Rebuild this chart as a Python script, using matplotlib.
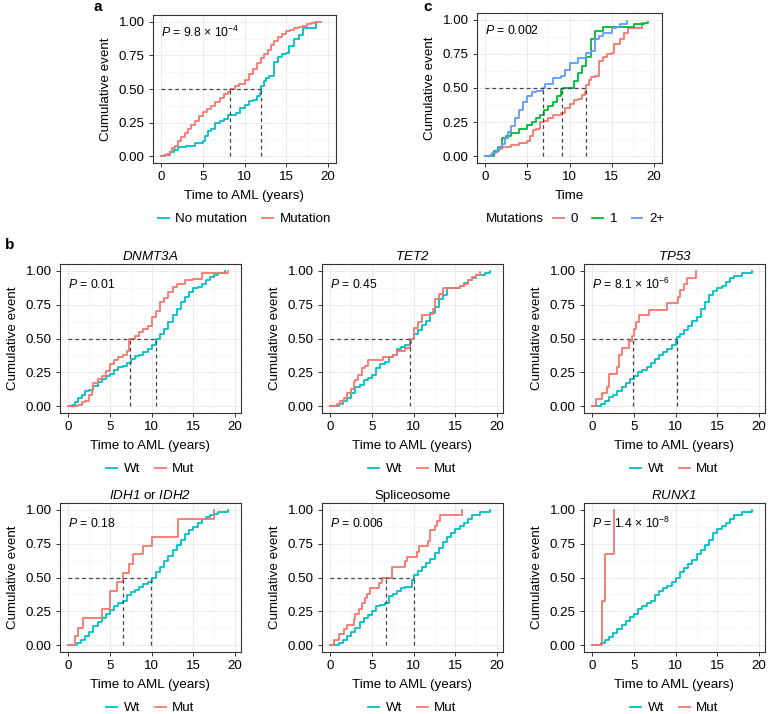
import matplotlib
matplotlib.use("Agg")
import matplotlib.pyplot as plt
from matplotlib.lines import Line2D
from matplotlib.ticker import MultipleLocator

plt.rcParams['font.family'] = ['Liberation Sans', 'DejaVu Sans']
plt.rcParams['mathtext.fontset'] = 'custom'
plt.rcParams['mathtext.rm'] = 'Liberation Sans'
plt.rcParams['mathtext.it'] = 'Liberation Sans:italic'
plt.rcParams['mathtext.sf'] = 'Liberation Sans:italic'

RED = '#F8766D'
CYAN = '#00BFC4'
GREEN = '#00BA38'
BLUE = '#619CFF'

# ---- panel a: no mutation vs mutation ----
a_nomut_t = [0, 0.5, 1.0, 1.5, 2.0, 3.0, 4.0, 5.0, 5.3, 5.6, 6.0, 6.5, 7.0, 7.5, 8.0, 9.0, 9.5, 10.0,
             10.5, 11.0, 11.5, 11.9, 12.0, 12.3, 12.6, 13.0, 13.5, 14.0, 14.5, 15.0, 15.3, 16.0, 16.5,
             17.0, 18.6]
a_nomut_v = [0, 0.01, 0.03, 0.05, 0.07, 0.08, 0.10, 0.11, 0.15, 0.19, 0.20, 0.25, 0.26, 0.28, 0.31, 0.32,
             0.36, 0.38, 0.41, 0.42, 0.45, 0.47, 0.52, 0.56, 0.58, 0.60, 0.70, 0.74, 0.76, 0.77, 0.82, 0.87,
             0.90, 0.955, 1.0]
a_mut_t = [0, 0.3, 0.7, 1.0, 1.3, 1.6, 2.0, 2.4, 2.8, 3.2, 3.6, 4.0, 4.5, 5.0, 5.5, 6.0, 6.5, 7.0, 7.5,
           8.0, 8.3, 8.8, 9.3, 10.0, 10.5, 11.0, 11.5, 12.0, 12.4, 12.8, 13.2, 13.6, 14.0, 14.5, 15.0,
           15.5, 16.0, 16.5, 17.0, 17.5, 18.0, 18.5, 19.2]
a_mut_v = [0, 0.01, 0.02, 0.03, 0.06, 0.08, 0.11, 0.14, 0.17, 0.20, 0.23, 0.26, 0.30, 0.33, 0.35, 0.37,
           0.40, 0.43, 0.46, 0.48, 0.50, 0.52, 0.54, 0.57, 0.61, 0.65, 0.69, 0.73, 0.76, 0.79, 0.83, 0.86,
           0.89, 0.91, 0.93, 0.94, 0.95, 0.96, 0.97, 0.98, 0.99, 0.995, 1.0]
a_medians = [8.2, 12.0]

# ---- panel c: number of mutations ----
c0_t = [0, 0.5, 1.0, 1.5, 2.0, 3.0, 4.0, 5.0, 5.3, 5.6, 6.0, 6.5, 7.0, 7.5, 8.0, 9.0, 9.5, 10.0, 10.5,
        11.0, 11.5, 11.9, 12.0, 12.3, 12.6, 13.0, 13.5, 14.0, 14.5, 15.0, 15.3, 16.0, 16.5, 17.0, 18.6]
c0_v = [0, 0.01, 0.03, 0.05, 0.07, 0.08, 0.10, 0.11, 0.15, 0.19, 0.20, 0.25, 0.26, 0.28, 0.30, 0.32,
        0.35, 0.38, 0.41, 0.42, 0.45, 0.47, 0.52, 0.56, 0.58, 0.59, 0.70, 0.73, 0.75, 0.76, 0.82, 0.86,
        0.90, 0.94, 0.98]
c1_t = [0, 0.8, 1.0, 1.5, 2.0, 2.5, 3.0, 4.0, 5.0, 5.5, 6.0, 6.5, 7.0, 7.5, 8.0, 8.5, 9.0, 9.2, 10.2,
        10.5, 11.0, 11.5, 12.0, 12.5, 13.0, 14.0, 17.7, 18.8, 19.3]
c1_v = [0, 0.0, 0.04, 0.07, 0.13, 0.15, 0.17, 0.20, 0.23, 0.25, 0.28, 0.30, 0.34, 0.37, 0.40, 0.44,
        0.49, 0.50, 0.50, 0.55, 0.61, 0.66, 0.73, 0.86, 0.92, 0.95, 0.97, 0.98, 0.985]
c2_t = [0, 0.3, 0.8, 1.2, 1.6, 2.0, 2.3, 2.7, 3.0, 3.5, 4.0, 4.5, 5.0, 5.5, 6.0, 6.9, 7.1, 8.0, 9.0, 9.5,
        10.0, 11.0, 12.0, 12.5, 13.0, 13.5, 14.0, 15.0, 15.5, 16.0, 16.8]
c2_v = [0, 0.0, 0.02, 0.04, 0.07, 0.09, 0.13, 0.18, 0.22, 0.28, 0.34, 0.40, 0.44, 0.47, 0.475, 0.50,
        0.53, 0.57, 0.59, 0.63, 0.68, 0.72, 0.76, 0.77, 0.86, 0.88, 0.90, 0.94, 0.95, 0.97, 0.99]
c_medians = [6.9, 9.1, 12.0]

# ---- panel b: individual genes (Wt vs Mut) ----
dnmt3a_wt_t = [0, 0.4, 0.8, 1.2, 1.6, 2.0, 2.5, 3.0, 3.5, 4.0, 4.5, 5.0, 5.5, 6.0, 6.5, 7.0, 7.5, 8.0,
               8.5, 9.0, 9.5, 10.0, 10.5, 11.0, 11.5, 12.0, 12.5, 13.0, 13.5, 14.0, 14.5, 15.0, 15.5,
               16.0, 16.5, 17.0, 17.5, 18.0, 18.8]
dnmt3a_wt_v = [0, 0.01, 0.03, 0.06, 0.08, 0.11, 0.12, 0.15, 0.18, 0.20, 0.22, 0.24, 0.27, 0.29, 0.30,
               0.32, 0.35, 0.37, 0.38, 0.40, 0.42, 0.45, 0.50, 0.53, 0.57, 0.62, 0.67, 0.72, 0.77, 0.81,
               0.84, 0.87, 0.88, 0.90, 0.93, 0.955, 0.97, 0.98, 1.0]
dnmt3a_mut_t = [0, 1.2, 1.6, 2.0, 2.5, 2.8, 3.0, 3.5, 4.0, 4.5, 5.0, 5.5, 6.0, 6.5, 7.0, 7.3, 8.0, 8.5,
                9.0, 9.5, 10.0, 10.5, 11.0, 11.5, 12.0, 12.5, 13.0, 14.0, 15.0, 16.0, 18.0, 19.2]
dnmt3a_mut_v = [0, 0.01, 0.03, 0.04, 0.08, 0.12, 0.17, 0.20, 0.22, 0.26, 0.31, 0.34, 0.36, 0.38, 0.41,
                0.50, 0.52, 0.55, 0.57, 0.59, 0.66, 0.70, 0.77, 0.80, 0.84, 0.88, 0.90, 0.93, 0.94, 0.98,
                0.985, 0.995]
dnmt3a_medians = [7.4, 10.5]

tet2_wt_t = [0, 0.3, 1.0, 1.5, 2.0, 2.5, 3.0, 3.5, 4.0, 4.5, 5.0, 5.5, 6.0, 6.5, 7.0, 7.5, 8.0, 8.5, 9.0,
             9.5, 9.7, 10.0, 10.5, 11.0, 11.5, 12.0, 12.5, 13.0, 13.5, 14.0, 15.0, 15.5, 16.0, 16.5,
             17.0, 17.5, 18.5, 19.2]
tet2_wt_v = [0, 0.0, 0.02, 0.04, 0.06, 0.10, 0.14, 0.16, 0.19, 0.21, 0.23, 0.28, 0.31, 0.33, 0.36, 0.38,
             0.42, 0.44, 0.45, 0.47, 0.50, 0.53, 0.56, 0.60, 0.63, 0.69, 0.73, 0.79, 0.82, 0.87, 0.87,
             0.89, 0.91, 0.93, 0.95, 0.97, 0.985, 0.995]
tet2_mut_t = [0, 0.3, 0.8, 1.2, 1.6, 2.0, 2.5, 2.8, 3.0, 3.3, 3.8, 4.2, 4.5, 6.3, 7.5, 8.0, 9.0, 9.5,
              9.6, 10.0, 10.5, 11.0, 12.0, 12.3, 12.6, 13.0, 13.5, 15.5, 16.0, 16.5, 17.0, 17.5, 18.0]
tet2_mut_v = [0, 0.0, 0.02, 0.04, 0.06, 0.10, 0.13, 0.18, 0.19, 0.23, 0.28, 0.30, 0.34, 0.36, 0.38, 0.41,
              0.43, 0.46, 0.50, 0.58, 0.62, 0.67, 0.68, 0.72, 0.79, 0.83, 0.87, 0.89, 0.90, 0.93, 0.955,
              0.97, 0.99]
tet2_medians = [9.6]

tp53_wt_t = [0, 0.5, 1.0, 1.5, 2.0, 2.5, 3.0, 3.5, 4.0, 4.5, 5.0, 5.5, 6.0, 6.5, 7.0, 7.5, 8.0, 8.5, 9.0,
             9.5, 10.0, 10.2, 10.5, 11.0, 11.5, 12.0, 12.5, 13.0, 13.5, 14.0, 14.5, 15.0, 15.5, 16.0,
             16.5, 17.0, 18.0, 19.2]
tp53_wt_v = [0, 0.0, 0.02, 0.04, 0.07, 0.08, 0.11, 0.14, 0.17, 0.20, 0.22, 0.25, 0.27, 0.29, 0.32, 0.35,
             0.38, 0.40, 0.42, 0.45, 0.48, 0.51, 0.53, 0.56, 0.59, 0.63, 0.66, 0.72, 0.77, 0.82, 0.85,
             0.87, 0.89, 0.92, 0.95, 0.96, 0.98, 1.0]
tp53_mut_t = [0, 0.4, 1.2, 1.8, 2.0, 3.0, 3.2, 3.6, 4.4, 4.8, 5.0, 5.2, 5.6, 6.8, 9.0, 10.3, 10.5, 11.0,
              11.3, 12.4]
tp53_mut_v = [0, 0.05, 0.10, 0.14, 0.24, 0.29, 0.38, 0.43, 0.48, 0.52, 0.57, 0.62, 0.67, 0.71, 0.76,
              0.81, 0.86, 0.90, 0.95, 1.0]
tp53_medians = [4.9, 10.1]

idh_wt_t = [0, 0.3, 1.0, 1.5, 2.0, 2.5, 3.0, 3.5, 4.0, 4.5, 5.0, 5.5, 6.0, 6.5, 7.0, 7.5, 8.0, 8.5, 9.0,
            9.5, 10.0, 10.5, 11.0, 11.5, 12.0, 12.5, 13.0, 13.5, 14.0, 14.5, 15.0, 15.5, 16.0, 16.5,
            17.0, 17.5, 18.0, 19.2]
idh_wt_v = [0, 0.0, 0.02, 0.04, 0.07, 0.10, 0.14, 0.17, 0.20, 0.23, 0.26, 0.29, 0.31, 0.33, 0.37, 0.39,
            0.41, 0.43, 0.45, 0.47, 0.50, 0.54, 0.58, 0.62, 0.66, 0.70, 0.74, 0.78, 0.82, 0.85, 0.87,
            0.90, 0.93, 0.95, 0.96, 0.97, 0.98, 1.0]
idh_mut_t = [0, 0.8, 1.1, 1.8, 4.0, 5.0, 5.8, 6.5, 7.3, 7.8, 9.0, 10.0, 13.2, 17.5]
idh_mut_v = [0, 0.07, 0.13, 0.20, 0.27, 0.40, 0.47, 0.53, 0.60, 0.67, 0.73, 0.80, 0.93, 1.0]
idh_medians = [6.6, 9.9]

splice_wt_t = [0, 0.5, 1.0, 1.5, 2.0, 2.5, 3.0, 3.5, 4.0, 4.5, 5.0, 5.5, 6.0, 6.6, 7.0, 7.5, 8.0, 8.5,
               9.0, 9.8, 10.0, 10.5, 11.0, 11.5, 12.0, 12.5, 13.0, 13.5, 14.0, 14.5, 15.0, 15.5, 16.0,
               16.5, 17.0, 18.0, 19.2]
splice_wt_v = [0, 0.0, 0.02, 0.04, 0.07, 0.10, 0.13, 0.17, 0.20, 0.22, 0.25, 0.29, 0.30, 0.31, 0.36,
               0.38, 0.40, 0.42, 0.43, 0.48, 0.52, 0.55, 0.58, 0.61, 0.64, 0.68, 0.72, 0.76, 0.80, 0.83,
               0.86, 0.88, 0.90, 0.93, 0.96, 0.98, 1.0]
splice_mut_t = [0, 0.4, 1.0, 1.6, 2.0, 2.8, 3.0, 3.4, 3.8, 4.1, 4.4, 4.7, 5.8, 6.2, 7.4, 9.0, 9.2, 10.4,
                10.6, 11.7, 11.9, 12.0, 12.6, 12.8, 13.1, 15.8]
splice_mut_v = [0, 0.04, 0.08, 0.12, 0.15, 0.19, 0.23, 0.27, 0.31, 0.35, 0.38, 0.42, 0.46, 0.50, 0.58,
                0.62, 0.65, 0.69, 0.73, 0.77, 0.81, 0.85, 0.88, 0.92, 0.96, 1.0]
splice_medians = [6.7, 10.0]

runx1_wt_t = [0, 0.3, 1.0, 1.5, 2.0, 2.5, 3.0, 3.5, 4.0, 4.5, 5.0, 5.5, 6.0, 6.5, 7.0, 7.5, 8.0, 8.5, 9.0,
              9.5, 10.0, 10.5, 11.0, 11.5, 12.0, 12.5, 13.0, 13.5, 14.0, 14.5, 15.0, 15.5, 16.0, 16.5,
              17.0, 18.0, 19.2]
runx1_wt_v = [0, 0.0, 0.02, 0.04, 0.06, 0.09, 0.12, 0.15, 0.18, 0.21, 0.23, 0.27, 0.29, 0.31, 0.33,
              0.37, 0.40, 0.42, 0.44, 0.47, 0.50, 0.54, 0.57, 0.60, 0.63, 0.67, 0.70, 0.74, 0.78, 0.83,
              0.86, 0.88, 0.90, 0.93, 0.96, 0.98, 1.0]
runx1_mut_t = [0, 1.2, 1.5, 2.6]
runx1_mut_v = [0, 0.33, 0.67, 1.0]
runx1_medians = []

W, H = 770, 714
FS = 9.6
fig = plt.figure(figsize=(W / 100, H / 100), dpi=100)


def px_axes(left, top, right, bottom):
    return fig.add_axes([left / W, 1 - bottom / H, (right - left) / W, (bottom - top) / H])


def style(ax, xmax):
    ax.set_xlim(-1.0, xmax)
    ax.set_ylim(-0.05, 1.05)
    ax.xaxis.set_major_locator(MultipleLocator(5))
    ax.xaxis.set_minor_locator(MultipleLocator(2.5))
    ax.yaxis.set_major_locator(MultipleLocator(0.25))
    ax.yaxis.set_minor_locator(MultipleLocator(0.125))
    ax.yaxis.set_major_formatter(plt.FuncFormatter(lambda v, p: f"{v:.2f}"))
    ax.grid(which='major', color='#EBEBEB', lw=0.7)
    ax.grid(which='minor', color='#F4F4F4', lw=0.4)
    ax.set_axisbelow(True)
    ax.tick_params(which='minor', length=0)
    ax.tick_params(which='major', length=3, width=0.7, color='#333333', labelsize=FS, pad=3)
    for s in ax.spines.values():
        s.set_color('#333333')
        s.set_linewidth(0.8)
    ax.set_ylabel('Cumulative event', fontsize=FS, labelpad=5)


def km(ax, curves, medians, ptext, pxy=(0.0, 0.92)):
    for t, v, col in curves:
        ax.step(t, v, where='post', color=col, lw=1.3)
    if medians:
        ax.plot([0, max(medians)], [0.5, 0.5], ls=(0, (3, 2.5)), color='#444444', lw=0.9)
        for m in medians:
            ax.plot([m, m], [0, 0.5], ls=(0, (3, 2.5)), color='#444444', lw=0.9)
    ax.text(pxy[0], pxy[1], ptext, fontsize=8.8, ha='left', va='center')


def legend_below(ax, labels, colors, yoff, x=0.5, loc='center'):
    handles = [Line2D([], [], color=c, lw=1.3) for c in colors]
    ax.legend(handles, labels, loc=loc, bbox_to_anchor=(x, yoff), ncol=len(labels), frameon=False,
              fontsize=FS, handlelength=0.8, handletextpad=0.5, columnspacing=1.1,
              borderpad=0, borderaxespad=0)


# panel a
ax = px_axes(153, 15, 336, 163)
style(ax, 21.0)
km(ax, [(a_nomut_t, a_nomut_v, CYAN), (a_mut_t, a_mut_v, RED)], a_medians,
   r'$P$ = 9.8 × 10$^{-4}$')
ax.set_xlabel('Time to AML (years)', fontsize=FS, labelpad=5)
legend_below(ax, ['No mutation', 'Mutation'], [CYAN, RED], -(219 - 163) / 148)

# panel c
ax = px_axes(477, 13, 662, 163)
style(ax, 21.0)
km(ax, [(c0_t, c0_v, RED), (c1_t, c1_v, GREEN), (c2_t, c2_v, BLUE)], c_medians,
   r'$P$ = 0.002')
ax.set_xlabel('Time', fontsize=FS, labelpad=5)
yl = -(219 - 163) / 150
ax.text(0.05, yl, 'Mutations', transform=ax.transAxes, fontsize=FS, ha='left', va='center')
legend_below(ax, ['0', '1', '2+'], [RED, GREEN, BLUE], yl, x=0.41, loc='center left')

# panel b
b_panels = [
    ((60, 264, 241, 413), r'$\mathsf{DNMT3A}$', dnmt3a_wt_t, dnmt3a_wt_v, dnmt3a_mut_t, dnmt3a_mut_v,
     dnmt3a_medians, r'$P$ = 0.01'),
    ((322, 264, 503, 413), r'$\mathsf{TET2}$', tet2_wt_t, tet2_wt_v, tet2_mut_t, tet2_mut_v,
     tet2_medians, r'$P$ = 0.45'),
    ((584, 264, 765, 413), r'$\mathsf{TP53}$', tp53_wt_t, tp53_wt_v, tp53_mut_t, tp53_mut_v,
     tp53_medians, r'$P$ = 8.1 × 10$^{-6}$'),
    ((60, 503, 241, 652), r'$\mathsf{IDH1}$ or $\mathsf{IDH2}$', idh_wt_t, idh_wt_v, idh_mut_t,
     idh_mut_v, idh_medians, r'$P$ = 0.18'),
    ((322, 503, 503, 652), 'Spliceosome', splice_wt_t, splice_wt_v, splice_mut_t, splice_mut_v,
     splice_medians, r'$P$ = 0.006'),
    ((584, 503, 765, 652), r'$\mathsf{RUNX1}$', runx1_wt_t, runx1_wt_v, runx1_mut_t, runx1_mut_v,
     runx1_medians, r'$P$ = 1.4 × 10$^{-8}$'),
]

for box, title, wt_t, wt_v, mut_t, mut_v, med, ptext in b_panels:
    ax = px_axes(*box)
    style(ax, 20.7)
    km(ax, [(wt_t, wt_v, CYAN), (mut_t, mut_v, RED)], med, ptext, pxy=(0.0, 0.9))
    ax.set_title(title, fontsize=FS, pad=3)
    ax.set_xlabel('Time to AML (years)', fontsize=FS, labelpad=5)
    legend_below(ax, ['Wt', 'Mut'], [CYAN, RED], -(56) / 149)

fig.text(93 / W, 1 - 7 / H, 'a', fontsize=11, fontweight='bold', va='center')
fig.text(423 / W, 1 - 7 / H, 'c', fontsize=11, fontweight='bold', va='center')
fig.text(5 / W, 1 - 245 / H, 'b', fontsize=11, fontweight='bold', va='center')

fig.savefig('out.png', dpi=100, facecolor='white')
